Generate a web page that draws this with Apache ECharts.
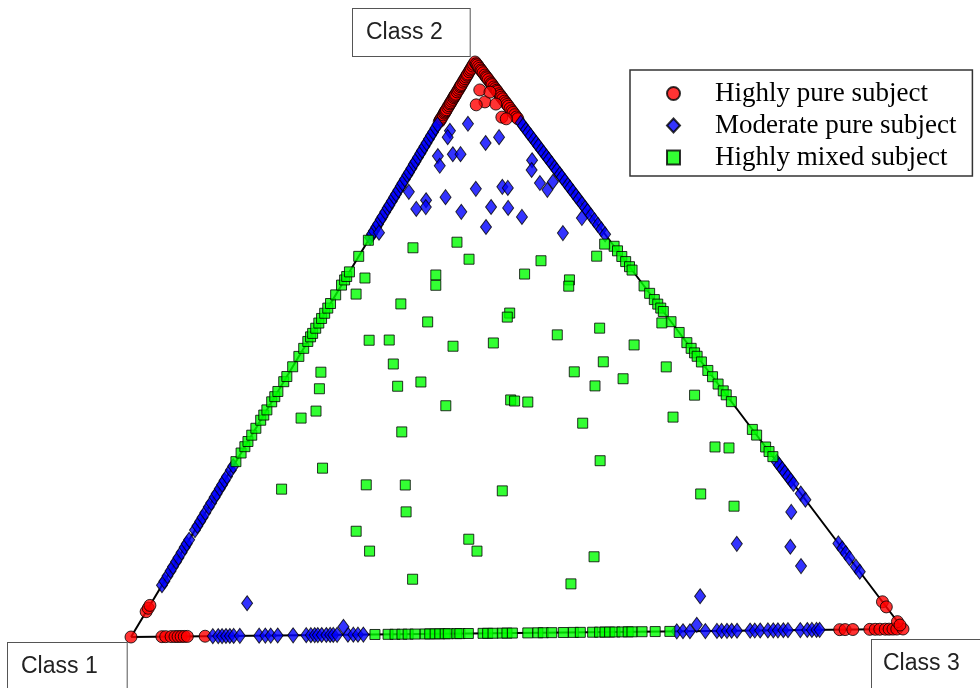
<!DOCTYPE html>
<html>
<head>
<meta charset="utf-8">
<script src="https://cdn.jsdelivr.net/npm/echarts@6/dist/echarts.min.js"></script>
<style>
  html, body { margin: 0; padding: 0; background: #ffffff; }
  #chart { width: 980px; height: 688px; }
</style>
</head>
<body>
<div id="chart"></div>
<script>
// Class memberships of the subjects. A subject on an edge of the triangle only
// belongs to the two classes of that edge, so a single share describes it.

const classNames = ['Class 1', 'Class 2', 'Class 3'];
const seriesNames = ['Highly pure subject', 'Moderate pure subject', 'Highly mixed subject'];

// Edge Class 1 - Class 3: share of Class 3
const pureEdge13 = [0, 0.040, 0.045, 0.052, 0.057, 0.061, 0.065, 0.069, 0.073, 0.096,
  0.918, 0.925, 0.935, 0.957, 0.964, 0.970, 0.977, 0.982, 0.987, 0.992, 1.0];
const moderateEdge13 = [0.106, 0.113, 0.118, 0.123, 0.128, 0.133, 0.141, 0.166, 0.174, 0.181,
  0.190, 0.210, 0.227, 0.233, 0.238, 0.242, 0.247, 0.253, 0.258, 0.262, 0.267, 0.281, 0.288,
  0.294, 0.301, 0.707, 0.715, 0.724, 0.744, 0.759, 0.765, 0.772, 0.778, 0.785, 0.802, 0.808,
  0.815, 0.825, 0.832, 0.838, 0.845, 0.851, 0.867, 0.876, 0.882, 0.888, 0.892];
const mixedEdge13 = [0.316, 0.333, 0.342, 0.351, 0.359, 0.368, 0.381, 0.387, 0.394, 0.400,
  0.407, 0.411, 0.422, 0.426, 0.437, 0.456, 0.462, 0.469, 0.481, 0.487, 0.494, 0.514, 0.527,
  0.534, 0.545, 0.560, 0.573, 0.582, 0.598, 0.607, 0.614, 0.620, 0.627, 0.636, 0.644, 0.649,
  0.662, 0.679, 0.698];

// Edge Class 1 - Class 2: share of Class 2
const pureEdge12 = [0.044, 0.050, 0.055, 0.896, 0.899, 0.901, 0.904, 0.908, 0.911, 0.913,
  0.915, 0.917, 0.921, 0.924, 0.927, 0.929, 0.932, 0.935, 0.938, 0.940, 0.942, 0.944, 0.948,
  0.951, 0.954, 0.957, 0.959, 0.961, 0.965, 0.968, 0.971, 0.974, 0.977, 0.979, 0.983, 0.986,
  0.989, 0.993, 0.996, 1.0];
const moderateEdge12 = [0.090, 0.097, 0.106, 0.115, 0.122, 0.131, 0.138, 0.147, 0.156, 0.162,
  0.169, 0.186, 0.193, 0.201, 0.208, 0.216, 0.226, 0.233, 0.243, 0.249, 0.258, 0.265, 0.272,
  0.279, 0.290, 0.297, 0.695, 0.701, 0.706, 0.713, 0.718, 0.726, 0.731, 0.739, 0.746, 0.751,
  0.758, 0.765, 0.770, 0.777, 0.784, 0.789, 0.796, 0.803, 0.808, 0.815, 0.822, 0.827, 0.834,
  0.841, 0.846, 0.853, 0.859, 0.866, 0.872, 0.878, 0.885, 0.891];
const mixedEdge12 = [0.305, 0.320, 0.331, 0.340, 0.351, 0.363, 0.377, 0.386, 0.395, 0.409,
  0.418, 0.427, 0.444, 0.453, 0.470, 0.488, 0.502, 0.514, 0.522, 0.528, 0.537, 0.546, 0.554,
  0.563, 0.572, 0.580, 0.595, 0.612, 0.621, 0.627, 0.635, 0.662, 0.690];

// Edge Class 2 - Class 3: share of Class 3
const pureEdge23 = [0.003, 0.005, 0.008, 0.011, 0.014, 0.016, 0.019, 0.023, 0.026, 0.028,
  0.031, 0.035, 0.038, 0.040, 0.044, 0.047, 0.050, 0.052, 0.056, 0.059, 0.062, 0.065, 0.069,
  0.072, 0.075, 0.078, 0.082, 0.086, 0.089, 0.093, 0.097, 0.100, 0.952, 0.961, 0.987, 0.993];
const moderateEdge23 = [0.107, 0.112, 0.119, 0.124, 0.130, 0.137, 0.143, 0.148, 0.155, 0.160,
  0.167, 0.172, 0.179, 0.186, 0.191, 0.198, 0.203, 0.210, 0.217, 0.222, 0.229, 0.236, 0.242,
  0.250, 0.257, 0.263, 0.271, 0.279, 0.287, 0.295, 0.304, 0.705, 0.711, 0.718, 0.724, 0.731,
  0.738, 0.744, 0.761, 0.772, 0.849, 0.858, 0.866, 0.875, 0.890, 0.899];
const mixedEdge23 = [0.325, 0.333, 0.343, 0.352, 0.361, 0.367, 0.395, 0.408, 0.419, 0.427,
  0.434, 0.440, 0.458, 0.477, 0.495, 0.505, 0.513, 0.519, 0.529, 0.544, 0.555, 0.568, 0.580,
  0.587, 0.599, 0.648, 0.658, 0.679, 0.687, 0.696];

// Inside the triangle: [share of Class 2, share of Class 3]
const pureInner = [[0.951, 0.028], [0.930, 0.044], [0.925, 0.035], [0.926, 0.060],
  [0.903, 0.078], [0.900, 0.085], [0.947, 0.043]];
const moderateInner = [[0.892, 0.039], [0.880, 0.021], [0.869, 0.023], [0.858, 0.077],
  [0.868, 0.090], [0.836, 0.025], [0.819, 0.035], [0.839, 0.043], [0.839, 0.053],
  [0.827, 0.151], [0.810, 0.158], [0.787, 0.179], [0.775, 0.194], [0.789, 0.195],
  [0.778, 0.100], [0.781, 0.133], [0.779, 0.141], [0.764, 0.067], [0.759, 0.044],
  [0.747, 0.049], [0.744, 0.038], [0.774, 0.015], [0.738, 0.099], [0.746, 0.134],
  [0.744, 0.157], [0.728, 0.182], [0.711, 0.143], [0.699, 0.248], [0.725, 0.261],
  [0.703, 0.008], [0.207, 0.763], [0.152, 0.717], [0.146, 0.789], [0.112, 0.818],
  [0.061, 0.710], [0.057, 0.125], [0.014, 0.269], [0.011, 0.728]];
const mixedInner = [[0.676, 0.064], [0.685, 0.117], [0.655, 0.146], [0.628, 0.115],
  [0.610, 0.123], [0.624, 0.025], [0.596, 0.026], [0.578, 0.092], [0.546, 0.141],
  [0.515, 0.079], [0.515, 0.105], [0.503, 0.193], [0.508, 0.243], [0.473, 0.129],
  [0.441, 0.179], [0.434, 0.152], [0.460, 0.041], [0.431, 0.052], [0.392, 0.065],
  [0.380, 0.051], [0.354, 0.193], [0.292, 0.118], [0.679, 0.311], [0.658, 0.310],
  [0.651, 0.241], [0.628, 0.230], [0.617, 0.293], [0.606, 0.297], [0.560, 0.241],
  [0.553, 0.241], [0.532, 0.370], [0.521, 0.320], [0.502, 0.428], [0.473, 0.401],
  [0.463, 0.487], [0.456, 0.371], [0.443, 0.440], [0.431, 0.409], [0.540, 0.447],
  [0.413, 0.546], [0.408, 0.310], [0.406, 0.316], [0.404, 0.334], [0.375, 0.535],
  [0.366, 0.422], [0.322, 0.613], [0.320, 0.632], [0.300, 0.474], [0.399, 0.230],
  [0.256, 0.081], [0.262, 0.188], [0.261, 0.239], [0.249, 0.370], [0.214, 0.261],
  [0.181, 0.211], [0.165, 0.364], [0.144, 0.384], [0.146, 0.244], [0.132, 0.541],
  [0.096, 0.322], [0.085, 0.532], [0.240, 0.631], [0.218, 0.684]];

// Where the three class corners sit in the plotting plane
const corners = [[0, 0], [0.4456, 1], [1, 0.0139]];

function toPlane(s2, s3) {
  const s1 = 1 - s2 - s3;
  const w = [s1, s2, s3];
  return [0, 1].map(k => w[0] * corners[0][k] + w[1] * corners[1][k] + w[2] * corners[2][k]);
}

function collect(edge13, edge12, edge23, inner) {
  return [
    ...edge13.map(s => toPlane(0, s)),
    ...edge12.map(s => toPlane(s, 0)),
    ...edge23.map(s => toPlane(1 - s, s)),
    ...inner.map(p => toPlane(p[0], p[1]))
  ];
}

const markerBorder = { borderColor: '#000000', borderWidth: 1 };
const labelFont = '23px "Liberation Sans", Arial, sans-serif';

const chart = echarts.init(document.getElementById('chart'), null, { renderer: 'canvas' });

chart.setOption({
  animation: false,
  backgroundColor: '#ffffff',
  grid: { left: 131, right: 77, top: 62, bottom: 51 },
  xAxis: { type: 'value', min: 0, max: 1, show: false },
  yAxis: { type: 'value', min: 0, max: 1, show: false },
  legend: {
    data: seriesNames,
    orient: 'vertical',
    left: 630,
    top: 70,
    padding: [10, 16, 5, 36],
    itemWidth: 13,
    itemHeight: 14,
    itemGap: 5,
    backgroundColor: '#ffffff',
    borderColor: '#333333',
    borderWidth: 1.5,
    borderRadius: 0,
    textStyle: {
      fontFamily: '"Liberation Serif", "Times New Roman", serif',
      fontSize: 27,
      color: '#000000',
      lineHeight: 27,
      padding: [0, 0, 0, 30]
    }
  },
  graphic: [
    { type: 'text', x: 353, y: 9, z: 10,
      style: { text: classNames[1], font: labelFont, fill: '#222222',
        backgroundColor: '#ffffff', borderColor: '#555555', borderWidth: 1, padding: [12, 27, 12, 13] } },
    { type: 'text', x: 8, y: 643, z: 10,
      style: { text: classNames[0], font: labelFont, fill: '#222222',
        backgroundColor: '#ffffff', borderColor: '#555555', borderWidth: 1, padding: [12, 29, 20, 13] } },
    { type: 'text', x: 872, y: 640, z: 10,
      style: { text: classNames[2], font: labelFont, fill: '#222222',
        backgroundColor: '#ffffff', borderColor: '#555555', borderWidth: 1, padding: [12, 30, 20, 11] } }
  ],
  series: [
    {
      name: 'triangle',
      type: 'line',
      data: [corners[0], corners[1], corners[2], corners[0]],
      symbol: 'none',
      silent: true,
      lineStyle: { color: '#000000', width: 2 },
      z: 1
    },
    {
      name: seriesNames[0],
      type: 'scatter',
      clip: false,
      symbol: 'circle',
      symbolSize: 12,
      itemStyle: Object.assign({ color: '#ff0000' }, markerBorder),
      data: collect(pureEdge13, pureEdge12, pureEdge23, pureInner),
      z: 2
    },
    {
      name: seriesNames[1],
      type: 'scatter',
      clip: false,
      symbol: 'diamond',
      symbolSize: [11, 15],
      itemStyle: Object.assign({ color: '#0000ff' }, markerBorder),
      data: collect(moderateEdge13, moderateEdge12, moderateEdge23, moderateInner),
      z: 3
    },
    {
      name: seriesNames[2],
      type: 'scatter',
      clip: false,
      symbol: 'rect',
      symbolSize: 10,
      itemStyle: Object.assign({ color: '#00ff00' }, markerBorder),
      data: collect(mixedEdge13, mixedEdge12, mixedEdge23, mixedInner),
      z: 4
    }
  ]
});
</script>
</body>
</html>
